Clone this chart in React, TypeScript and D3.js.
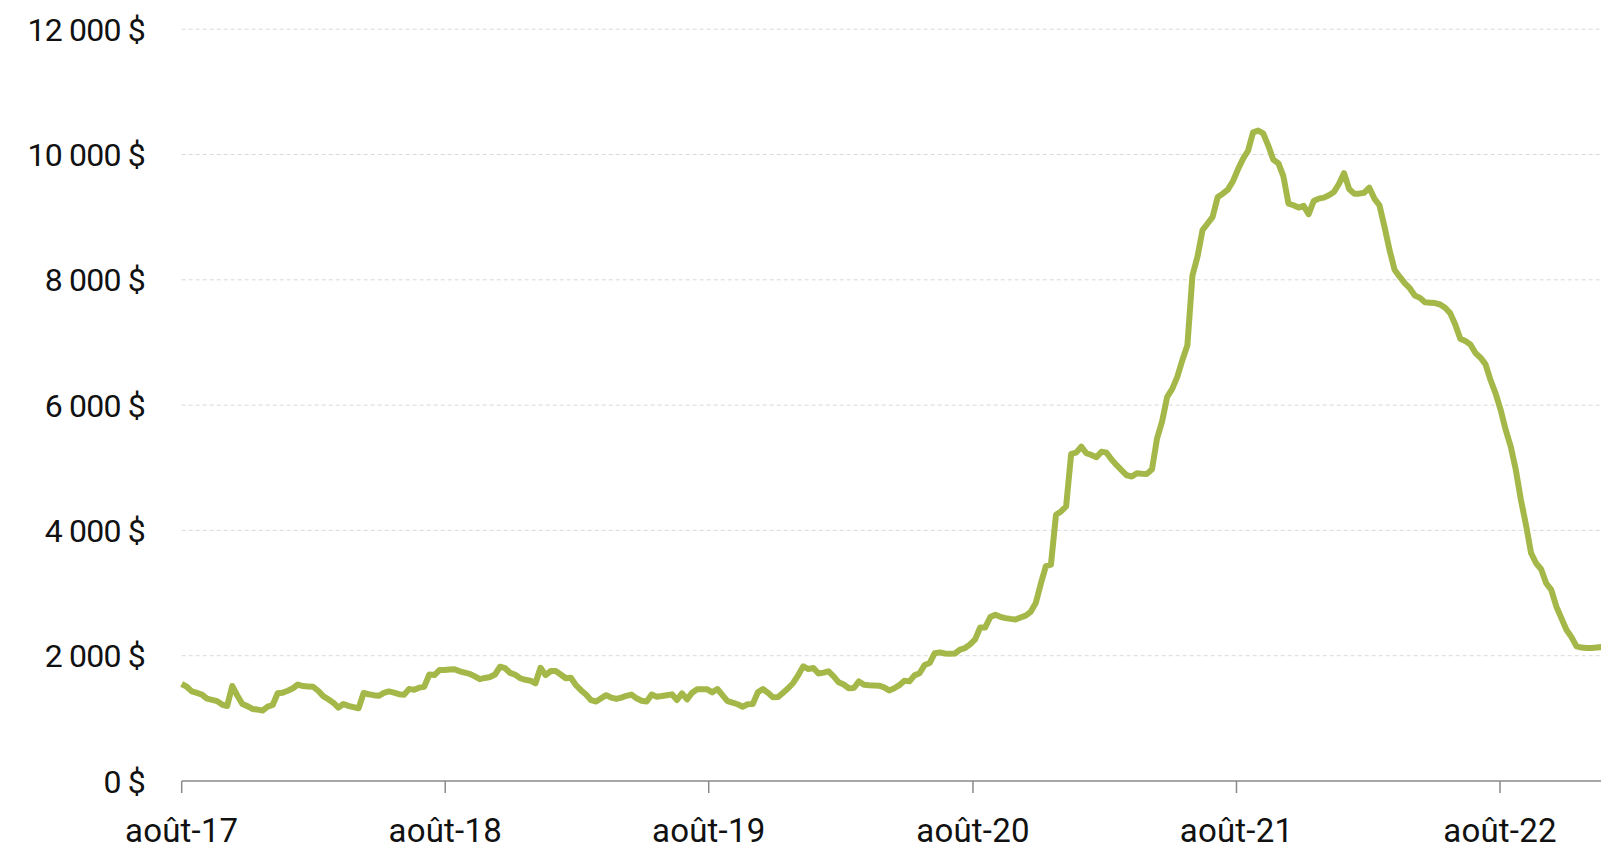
import React, { useMemo } from "react";
import * as d3 from "d3";

// Weekly composite container freight rate (USD per 40ft), Thursdays from 17 Aug 2017
const START_DATE = "2017-08-17";
const weeklyPrices = [
  1548, 1505, 1430, 1405, 1380, 1315, 1295, 1275, 1220, 1197,
  1516, 1365, 1228, 1195, 1150, 1140, 1125, 1186, 1213, 1400,
  1410, 1440, 1480, 1540, 1516, 1510, 1505, 1440, 1355, 1305,
  1250, 1170, 1229, 1200, 1180, 1160, 1405, 1385, 1370, 1360,
  1405, 1430, 1410, 1385, 1375, 1470, 1455, 1490, 1505, 1700,
  1691, 1771, 1771, 1780, 1785, 1750, 1730, 1710, 1670, 1625,
  1645, 1660, 1700, 1824, 1800, 1725, 1695, 1640, 1615, 1601,
  1560, 1808, 1690, 1755, 1755, 1700, 1640, 1649, 1530, 1450,
  1380, 1290, 1268, 1320, 1370, 1330, 1310, 1330, 1360, 1380,
  1320, 1280, 1270, 1380, 1345, 1356, 1370, 1383, 1292, 1399,
  1303, 1410, 1465, 1465, 1463, 1415, 1468, 1370, 1275, 1250,
  1225, 1186, 1225, 1230, 1415, 1468, 1408, 1335, 1340, 1410,
  1480, 1565, 1690, 1830, 1787, 1803, 1715, 1730, 1750, 1670,
  1575, 1540, 1480, 1484, 1590, 1535, 1527, 1525, 1521, 1495,
  1445, 1480, 1530, 1601, 1590, 1686, 1720, 1850, 1883, 2040,
  2053, 2035, 2032, 2035, 2096, 2122, 2180, 2260, 2450, 2452,
  2617, 2654, 2620, 2600, 2588, 2578, 2610, 2640, 2700, 2840,
  3150, 3430, 3454, 4250, 4302, 4382, 5220, 5241, 5337, 5231,
  5204, 5167, 5257, 5241, 5130, 5040, 4960, 4880, 4860, 4912,
  4905, 4902, 4976, 5469, 5740, 6133, 6260, 6451, 6716, 6955,
  8070, 8370, 8794, 8899, 9005, 9323, 9375, 9439, 9570, 9760,
  9930, 10060, 10354, 10381, 10338, 10142, 9915, 9862, 9650, 9217,
  9190, 9153, 9180, 9047, 9259, 9296, 9312, 9350, 9402, 9534,
  9703, 9450, 9375, 9375, 9390, 9471, 9296, 9190, 8846, 8476,
  8159, 8050, 7946, 7866, 7750, 7712, 7643, 7635, 7628, 7606,
  7553, 7468, 7288, 7059, 7022, 6969, 6831, 6757, 6650, 6396,
  6183, 5918, 5600, 5334, 4962, 4485, 4086, 3640, 3476, 3380,
  3157, 3051, 2786, 2600, 2414, 2297, 2149, 2130, 2122, 2122,
  2130, 2138,
];

const yTicks = [0, 2000, 4000, 6000, 8000, 10000, 12000];
const xTickDates = ["2017-08-17", "2018-08-17", "2019-08-17", "2020-08-17", "2021-08-17", "2022-08-17"];
const xTickLabels = ["août-17", "août-18", "août-19", "août-20", "août-21", "août-22"];

const WIDTH = 1601;
const HEIGHT = 849;
const FONT = "Roboto, 'Noto Sans', sans-serif";

const frLocale = d3.formatLocale({
  decimal: ",",
  thousands: " ",
  grouping: [3],
  currency: ["", " $"],
});
const fmtMoney = frLocale.format("$,.0f");

export default function App() {
  const start = new Date(START_DATE + "T00:00:00Z");
  const points = useMemo(
    () => weeklyPrices.map((v, i) => ({ date: d3.utcDay.offset(start, 7 * i), value: v })),
    []
  );

  const x = d3
    .scaleUtc()
    .domain([new Date(xTickDates[0] + "T00:00:00Z"), new Date(xTickDates[xTickDates.length - 1] + "T00:00:00Z")])
    .range([181.7, 1500]);
  const y = d3.scaleLinear().domain([0, 12000]).range([781, 29.2]);

  const line = d3
    .line<{ date: Date; value: number }>()
    .x((d) => x(d.date))
    .y((d) => y(d.value));

  const plotLeft = x(new Date(xTickDates[0] + "T00:00:00Z"));

  return (
    <div style={{ position: "fixed", left: 0, top: 0, width: WIDTH, height: HEIGHT, background: "#fff" }}>
      <svg width={WIDTH} height={HEIGHT} style={{ display: "block" }}>
        <rect width={WIDTH} height={HEIGHT} fill="#ffffff" />
        {/* horizontal gridlines */}
        {yTicks.filter((t) => t > 0).map((t) => (
          <line
            key={"g" + t}
            x1={plotLeft}
            x2={WIDTH}
            y1={y(t)}
            y2={y(t)}
            stroke="#d9d9d9"
            strokeWidth={1}
            strokeDasharray="4 3"
          />
        ))}
        {/* y tick labels */}
        {yTicks.map((t) => (
          <text
            key={"yl" + t}
            x={145}
            y={y(t)}
            dy="0.36em"
            textAnchor="end"
            fontFamily={FONT}
            fontWeight={400}
            fontSize={32}
            letterSpacing={-0.8}
            fill="#111"
          >
            {fmtMoney(t)}
          </text>
        ))}
        {/* x axis */}
        <line x1={plotLeft} x2={WIDTH} y1={y(0)} y2={y(0)} stroke="#8a8a8a" strokeWidth={1.5} />
        {xTickDates.map((d, i) => {
          const xx = x(new Date(d + "T00:00:00Z"));
          return (
            <g key={"xt" + d}>
              <line x1={xx} x2={xx} y1={y(0)} y2={y(0) + 12} stroke="#8a8a8a" strokeWidth={1.5} />
              <text
                x={xx}
                y={842}
                textAnchor="middle"
                fontFamily={FONT}
                fontWeight={400}
                fontSize={33}
                letterSpacing={0.2}
                fill="#111"
              >
                {xTickLabels[i]}
              </text>
            </g>
          );
        })}
        {/* price line */}
        <path
          d={line(points) || ""}
          fill="none"
          stroke="#a3b848"
          strokeWidth={6}
          strokeLinejoin="round"
          strokeLinecap="butt"
        />
      </svg>
    </div>
  );
}
